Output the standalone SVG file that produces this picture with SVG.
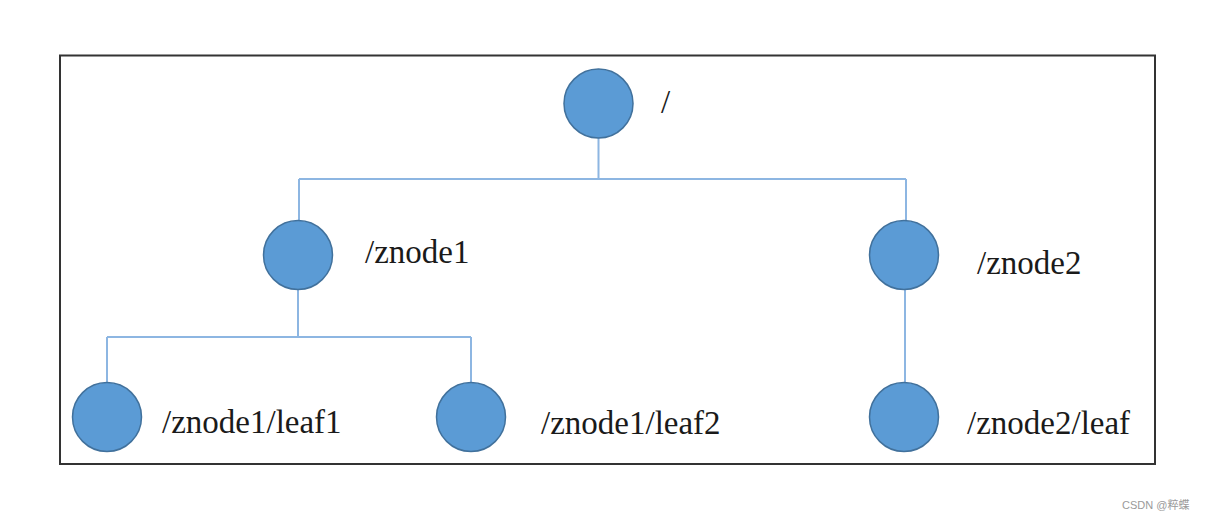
<svg xmlns="http://www.w3.org/2000/svg" width="1205" height="522" viewBox="0 0 1205 522">
<style>
.node{fill:#5B9BD5;stroke:#41719C;stroke-width:1.5}
.lbl{font-family:"Liberation Serif","Times New Roman",serif;font-size:33px;fill:#1a1a1a}
.conn{fill:none;stroke:#8DB6E2;stroke-width:2}
.wm{font-family:"Liberation Sans","Noto Sans CJK SC",sans-serif;font-size:11px;fill:#9a9a9a}
</style>
<rect width="1205" height="522" fill="#ffffff"/>
<rect x="60" y="55.5" width="1095" height="408.5" fill="none" stroke="#333333" stroke-width="2"/>
<g id="connectors">
<path class="conn" d="M598.5 138 V179 M299 179 H906 M299 179 V220 M906 179 V221 M298 290 V337 M107 337 H471 M107 337 V383 M471 337 V383 M905 289 V383"/>
</g>
<g id="root"><circle class="node" cx="598.5" cy="103.5" r="34.5"/><text class="lbl" x="661" y="113">/</text></g>
<g id="znode1"><circle class="node" cx="298" cy="255" r="34.5"/><text class="lbl" x="365" y="263">/znode1</text></g>
<g id="znode2"><circle class="node" cx="904" cy="255" r="34.5"/><text class="lbl" x="977" y="274">/znode2</text></g>
<g id="leaf1"><circle class="node" cx="107" cy="417" r="34.5"/><text class="lbl" x="162" y="433">/znode1/leaf1</text></g>
<g id="leaf2"><circle class="node" cx="471" cy="417" r="34.5"/><text class="lbl" x="541" y="434">/znode1/leaf2</text></g>
<g id="leaf3"><circle class="node" cx="904" cy="417" r="34.5"/><text class="lbl" x="967" y="434">/znode2/leaf</text></g>
<text class="wm" x="1122" y="509">CSDN @粹蝶</text>
</svg>
